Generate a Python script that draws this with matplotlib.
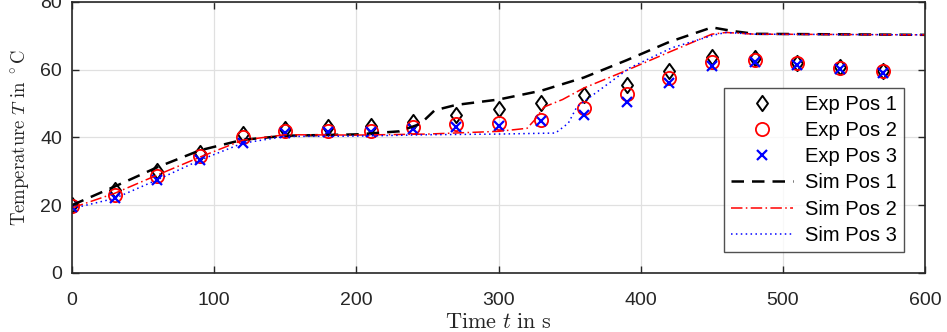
import numpy as np
import matplotlib
matplotlib.use("Agg")
import matplotlib.pyplot as plt
from matplotlib.path import Path

plt.rcParams['font.family'] = ['Liberation Sans', 'DejaVu Sans']
plt.rcParams['mathtext.fontset'] = 'cm'

# Messpunkte (alle 30 s)
t_exp = [0, 30, 60, 90, 120, 150, 180, 210, 240, 270, 300, 330, 360, 390, 420, 450, 480, 510, 540, 570]
exp_pos1 = [20, 24.5, 30, 35.5, 41, 42.5, 43, 43.5, 44.5, 46.5, 48.3, 50.1, 52.5, 55.5, 59.6, 63.8, 63.4, 62.1, 60.9, 59.7]
exp_pos2 = [19.7, 23, 28.5, 34.5, 40, 42, 42, 42, 43, 44, 44.3, 45.2, 48.6, 52.8, 57.7, 62.4, 63.0, 61.9, 60.6, 59.5]
exp_pos3 = [19.5, 22, 27.5, 33.3, 38.5, 41.2, 41.5, 41.5, 42.5, 43.2, 43.5, 45.0, 46.6, 50.6, 56.0, 61.2, 62.4, 61.5, 60.3, 59.0]

# Simulation
t_sim1 = [0, 30, 60, 90, 120, 150, 200, 230, 245, 255, 270, 300, 330, 360, 390, 420, 450, 465, 480, 600]
sim_pos1 = [20, 25.5, 31.2, 36.2, 39.3, 40.5, 40.9, 41.8, 44, 48, 49.6, 51.2, 53.8, 57.7, 62.8, 68.2, 72.5, 71.4, 70.6, 70.3]
t_sim2 = [0, 30, 60, 90, 120, 150, 200, 250, 300, 320, 325, 332, 345, 360, 390, 420, 450, 460, 480, 600]
sim_pos2 = [19.2, 23.5, 28.9, 34.2, 39.2, 40.8, 40.7, 41.0, 41.8, 42.7, 45, 49, 51.2, 54.6, 59.8, 65.2, 70.5, 71.0, 70.5, 70.3]
t_sim3 = [0, 30, 60, 90, 120, 150, 200, 250, 300, 340, 349, 355, 362, 392, 422, 452, 460, 480, 600]
sim_pos3 = [19.0, 22.0, 27.5, 33.3, 38.3, 40.3, 40.4, 40.8, 41.0, 41.3, 44.2, 49.0, 51.2, 60.5, 66.5, 70.3, 71.0, 70.5, 70.3]

# MATLAB-artige Raute (etwas breiter als 'd')
raute = Path([(0, 1), (0.72, 0), (0, -1), (-0.72, 0), (0, 1)],
             [Path.MOVETO, Path.LINETO, Path.LINETO, Path.LINETO, Path.CLOSEPOLY])

fig = plt.figure(figsize=(9.47, 3.32), dpi=100)
ax = fig.add_axes([0.076, 0.178, 0.901, 0.816])

ax.plot(t_exp, exp_pos1, linestyle='none', marker=raute, markersize=11, markerfacecolor='none',
        markeredgecolor='black', markeredgewidth=1.4, label='Exp Pos 1')
ax.plot(t_exp, exp_pos2, linestyle='none', marker='o', markersize=9.5, markerfacecolor='none',
        markeredgecolor='red', markeredgewidth=1.3, label='Exp Pos 2')
ax.plot(t_exp, exp_pos3, linestyle='none', marker='x', markersize=6.5, color='blue',
        markeredgewidth=1.6, label='Exp Pos 3')
ax.plot(t_sim1, sim_pos1, color='black', linestyle=(0, (5, 3.2)), linewidth=1.8, label='Sim Pos 1')
ax.plot(t_sim2, sim_pos2, color='red', linestyle=(0, (7.5, 2.2, 1, 2.2)), linewidth=1.1, label='Sim Pos 2')
ax.plot(t_sim3, sim_pos3, color='blue', linestyle=(0, (1, 2.2)), linewidth=1.1, label='Sim Pos 3')

ax.set_xlim(0, 600)
ax.set_ylim(0, 80)
ax.set_xticks([0, 100, 200, 300, 400, 500, 600])
ax.set_yticks([0, 20, 40, 60, 80])
ax.grid(True, color='#e0e0e0', linewidth=0.9)
ax.set_axisbelow(True)
ax.tick_params(direction='in', top=True, right=True, length=5, width=1,
               colors='#262626', labelsize=14)
ax.tick_params(axis='x', pad=14)
ax.tick_params(axis='y', pad=7)
for s in ax.spines.values():
    s.set_color('#262626')
    s.set_linewidth(1.2)

ax.set_xlabel(r'$\mathrm{Time}\ t\ \mathrm{in}\ \mathrm{s}$', fontsize=16, color='#262626', labelpad=2)
ax.set_ylabel(r'$\mathrm{Temperature}\ T\ \mathrm{in}\ ^\circ\mathrm{C}$', fontsize=13.5, color='#262626', labelpad=7)

leg = ax.legend(loc='lower right', bbox_to_anchor=(0.9754, 0.0775), fontsize=14.5, frameon=True,
                fancybox=False, edgecolor='#262626', labelspacing=0.36, handlelength=3.1,
                borderpad=0.35, handletextpad=0.6, borderaxespad=0)
leg.get_frame().set_linewidth(1.0)

fig.savefig('out.png', dpi=100)
